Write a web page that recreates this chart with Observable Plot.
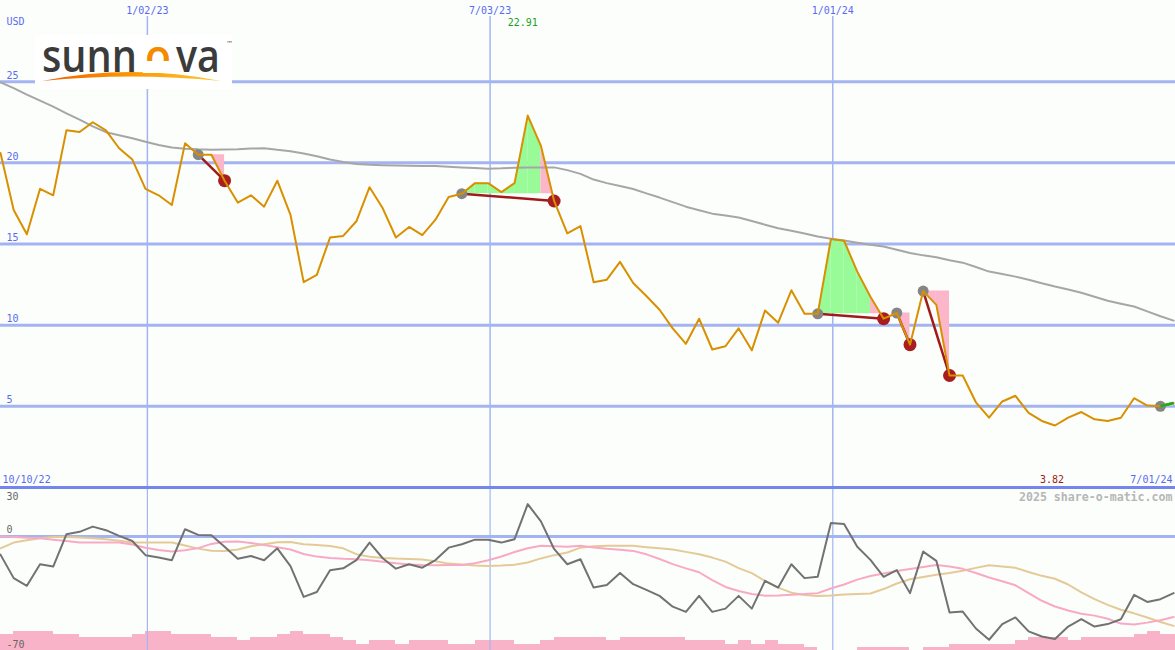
<!DOCTYPE html>
<html><head><meta charset="utf-8">
<script src="https://cdn.jsdelivr.net/npm/d3@7"></script>
<script src="https://cdn.jsdelivr.net/npm/@observablehq/plot@0.6"></script>
<style>
html,body{margin:0;padding:0;background:#fcfefc;}
#wrap{position:relative;width:1175px;height:650px;overflow:hidden;background:#fcfefc;}
#wrap > svg{position:absolute;left:0;}
</style></head><body><div id="wrap"></div>
<script>
// ---------- data ----------
const startDate = "2022-10-16";
const endDate = "2024-07-01";
const price = [20.6, 17.1, 15.6, 18.4, 18.0, 22.0, 21.9, 22.5, 22.0, 20.9,
 20.2, 18.4, 18.0, 17.4, 21.2, 20.5, 20.5, 18.9, 17.55, 18.0,
 17.3, 18.9, 16.8, 12.65, 13.1, 15.4, 15.5, 16.4, 18.5, 17.2,
 15.4, 16.05, 15.55, 16.5, 17.9, 18.1, 18.75, 18.75, 18.2, 18.75,
 22.91, 21.05, 17.65, 15.65, 16.1, 12.65, 12.8, 13.9, 12.6, 11.8,
 10.95, 9.8, 8.85, 10.4, 8.5, 8.7, 9.8, 8.45, 10.9, 10.15,
 12.15, 10.7, 10.7, 15.3, 15.2, 13.3, 11.75, 10.4, 10.75, 8.8,
 12.1, 11.25, 6.9, 6.9, 5.25, 4.3, 5.3, 5.65, 4.6, 4.1,
 3.82, 4.3, 4.65, 4.2, 4.1, 4.3, 5.5, 5.05, 5.0, 5.2];
const avg = [24.96, 24.6, 24.2, 23.83, 23.46, 23.05, 22.66, 22.25, 21.89, 21.7,
 21.51, 21.3, 21.1, 20.94, 20.87, 20.83, 20.81, 20.82, 20.83, 20.88,
 20.9, 20.8, 20.72, 20.57, 20.4, 20.2, 20.05, 19.93, 19.88, 19.85,
 19.83, 19.82, 19.8, 19.8, 19.76, 19.72, 19.68, 19.64, 19.66, 19.7,
 19.72, 19.72, 19.72, 19.55, 19.32, 18.97, 18.75, 18.57, 18.39, 18.12,
 17.86, 17.58, 17.3, 17.08, 16.87, 16.75, 16.63, 16.42, 16.19, 15.97,
 15.82, 15.65, 15.46, 15.33, 15.21, 15.08, 14.96, 14.84, 14.65, 14.44,
 14.3, 14.18, 14.0, 13.85, 13.58, 13.3, 13.15, 12.99, 12.8, 12.58,
 12.38, 12.2, 12.0, 11.75, 11.5, 11.32, 11.15, 10.85, 10.55, 10.28];
const osc = [-11.2, -25.6, -30.3, -17.1, -18.5, 1.3, 2.8, 6.0, 3.8, 0.3,
 -2.8, -11.5, -13.0, -14.6, 4.4, 0.9, 0.7, -6.3, -13.7, -12.0,
 -14.6, -7.3, -18.2, -37.1, -34.1, -20.8, -19.6, -14.5, -3.8, -13.4,
 -19.8, -17.1, -19.2, -14.5, -6.9, -4.8, -2.0, -2.0, -3.8, -1.7,
 19.8, 9.2, -7.7, -17.1, -14.0, -31.4, -29.8, -22.4, -29.3, -32.8,
 -36.5, -43.1, -46.3, -36.5, -46.3, -44.3, -36.5, -44.3, -27.3, -31.4,
 -17.1, -25.6, -24.8, 8.2, 7.6, -6.4, -14.4, -24.8, -20.7, -34.8,
 -9.3, -15.0, -46.7, -46.1, -56.5, -63.4, -53.8, -49.7, -58.3, -61.4,
 -63.0, -55.3, -50.8, -55.3, -53.8, -50.8, -35.9, -40.2, -38.5, -34.8];
const oscFast = [-0.1, -0.4, -0.9, -1.1, -2.0, -2.8, -3.8, -3.8, -3.8, -3.8,
 -5.0, -7.0, -8.3, -9.3, -8.5, -7.2, -4.6, -3.3, -3.1, -4.0,
 -5.3, -6.7, -8.0, -10.8, -12.4, -13.2, -13.7, -14.0, -14.6, -15.6,
 -16.5, -17.2, -17.6, -17.7, -17.6, -17.5, -16.5, -14.6, -12.3, -9.6,
 -7.3, -5.8, -6.0, -6.4, -5.8, -6.8, -7.6, -8.2, -8.9, -11.0,
 -13.9, -17.0, -19.6, -22.0, -26.8, -31.0, -33.5, -35.3, -36.4, -36.2,
 -35.8, -35.4, -34.8, -32.0, -29.5, -26.5, -24.3, -22.8, -21.2, -20.0,
 -18.8, -17.6, -18.5, -19.9, -22.5, -25.2, -27.5, -30.0, -34.8, -39.5,
 -43.0, -45.5, -47.4, -48.6, -50.5, -53.5, -54.0, -52.9, -51.5, -49.5];
const oscSlow = [-7.3, -3.8, -2.3, -1.1, -0.3, -0.3, -0.7, -1.2, -1.8, -2.6,
 -3.8, -3.8, -3.8, -3.8, -5.6, -7.5, -8.8, -9.0, -8.0, -6.0,
 -4.8, -3.6, -3.4, -4.8, -5.3, -5.9, -7.3, -10.9, -12.5, -13.2,
 -13.6, -13.8, -14.2, -15.2, -16.7, -17.2, -17.8, -18.1, -17.9, -17.4,
 -16.0, -13.5, -11.5, -9.9, -6.9, -6.0, -5.8, -5.8, -5.8, -6.6,
 -7.3, -8.0, -9.5, -10.9, -13.0, -15.5, -19.5, -22.5, -27.3, -31.4,
 -34.5, -36.0, -36.5, -36.3, -35.6, -35.3, -35.0, -32.3, -28.9, -26.3,
 -24.9, -23.5, -22.5, -21.1, -19.3, -17.7, -18.4, -19.3, -21.8, -24.2,
 -26.0, -29.5, -34.3, -38.5, -42.0, -45.0, -47.2, -49.8, -52.5, -54.9];
const volume = [5,6,6,6,5,5,4,4,4,4,
 5,6,6,5,5,5,4,4,3,4,
 4,5,6,5,5,4,3,2,3,3,
 2,3,3,3,2,2,3,3,3,2,
 2,3,4,4,4,4,3,4,4,4,
 4,4,3,3,3,2,3,2,3,2,
 2,1,0,0,0,1,1,1,1,0,
 1,1,2,2,2,2,2,3,4,4,
 4,3,4,4,4,4,5,6,5,5];
const tradeEntry = [15, 35, 62, 68, 70, 88];
const tradeExit  = [17, 42, 67, 69, 72, 89];
const tradeOpen  = [false, false, false, false, false, true];
const dateTicks = ["2023-01-02", "2023-07-03", "2024-01-01"];
const dateTickLabels = ["1/02/23", "7/03/23", "1/01/24"];
const priceTicks = [5, 10, 15, 20, 25];
const oscTicksTop = [30];
const oscTicksLow = [0, -70];
const rangeLabels = ["10/10/22", "7/01/24"];
const unitLabel = "USD";
const credit = "2025 share-o-matic.com";

// ---------- derived tables ----------
const WEEK = 7 * 864e5;
const t0 = new Date(startDate + "T00:00:00Z");
const xDomain = [t0, new Date(endDate + "T00:00:00Z")];
const dates = price.map((_, i) => new Date(+t0 + i * WEEK));
const rows = price.map((p, i) => ({
  date: dates[i], next: new Date(+dates[i] + WEEK), price: p, avg: avg[i],
  osc: osc[i], fast: oscFast[i], slow: oscSlow[i], vol: volume[i]
}));
const trades = tradeEntry.map((e, k) => ({e, x: tradeExit[k], open: tradeOpen[k]}));
const GREEN = "#98fb98", PINK = "#fbb6c9";
const segs = [];
trades.forEach((t, ti) => {
  const level = price[t.e];
  for (let k = t.e; k < t.x; k++) {
    const col = price[k + 1] >= level ? GREEN : PINK;
    const id = ti + "-" + k;
    segs.push({id, date: dates[k], lo: level, hi: price[k], col});
    segs.push({id, date: dates[k + 1], lo: level, hi: price[k + 1], col});
  }
});
const iMax = price.indexOf(d3.max(price));
const iMin = price.indexOf(d3.min(price));
const tickDates = dateTicks.map(d => new Date(d + "T00:00:00Z"));

const BLUE = "#5a6af0", GRID = "#a4b4f2", MONO = "DejaVu Sans Mono, monospace";
const baseStyle = {background: "transparent", fontFamily: MONO, fontSize: "10px", overflow: "visible"};

// ---------- upper panel ----------
const upper = Plot.plot({
  width: 1175, height: 489, marginTop: 0, marginRight: 0, marginLeft: 0, marginBottom: 2,
  x: {type: "utc", domain: xDomain, axis: null},
  y: {domain: [0, 30], axis: null},
  color: {type: "identity"},
  style: baseStyle,
  marks: [
    Plot.ruleY(priceTicks, {stroke: GRID, strokeWidth: 3}),
    Plot.ruleX(tickDates, {stroke: GRID, strokeWidth: 1.5, insetTop: 16}),
    Plot.areaY(segs, {x: "date", y1: "lo", y2: "hi", z: "id", fill: "col"}),
    Plot.line(rows, {x: "date", y: "avg", stroke: "#a6a6a6", strokeWidth: 2}),
    Plot.link(trades, {x1: t => dates[t.e], y1: t => price[t.e], x2: t => dates[t.x], y2: t => price[t.x],
      stroke: t => price[t.x] >= price[t.e] ? "#22aa22" : "#a01a1a", strokeWidth: 2.5}),
    Plot.dot(trades, {x: t => dates[t.e], y: t => price[t.e], r: 5.5, fill: "#858585"}),
    Plot.dot(trades.filter(t => !t.open), {x: t => dates[t.x], y: t => price[t.x], r: 6.5, fill: "#a81e1e"}),
    Plot.line(rows, {x: "date", y: "price", stroke: "#d99000", strokeWidth: 2}),
    Plot.link(trades.filter(t => t.open), {x1: t => dates[t.e], y1: t => price[t.e], x2: t => dates[t.x], y2: t => price[t.x],
      stroke: "#22aa22", strokeWidth: 2.5}),
    Plot.ruleY([0], {stroke: "#7585ee", strokeWidth: 3}),
    Plot.text(priceTicks, {y: d => d, text: d => String(d), frameAnchor: "left", textAnchor: "start",
      lineAnchor: "bottom", dx: 6, dy: -3, fill: BLUE}),
    Plot.text([unitLabel], {frameAnchor: "top-left", textAnchor: "start", lineAnchor: "bottom", dx: 6, dy: 24.5, fill: BLUE}),
    Plot.text(tickDates, {x: d => d, text: (d, i) => dateTickLabels[i], frameAnchor: "top", lineAnchor: "bottom", dy: 13, fill: BLUE}),
    Plot.text([rangeLabels[0]], {frameAnchor: "bottom-left", textAnchor: "start", lineAnchor: "bottom", dx: 2, dy: -5, fill: BLUE}),
    Plot.text([rangeLabels[1]], {frameAnchor: "bottom-right", textAnchor: "end", lineAnchor: "bottom", dx: -3, dy: -5, fill: BLUE}),
    Plot.text([iMax], {x: i => dates[i], text: i => price[i].toFixed(2), frameAnchor: "top", lineAnchor: "bottom", dy: 25, dx: -5, fill: "#1e9e1e"}),
    Plot.text([iMin], {x: i => dates[i], text: i => price[i].toFixed(2), frameAnchor: "bottom", lineAnchor: "bottom", dy: -5, dx: -3, fill: "#a01a1a"})
  ]
});

// ---------- lower panel ----------
const lower = Plot.plot({
  width: 1175, height: 163, margin: 0,
  x: {type: "utc", domain: xDomain, axis: null},
  y: {domain: [-70, 30], axis: null},
  style: baseStyle,
  marks: [
    Plot.ruleX(tickDates, {stroke: GRID, strokeWidth: 1.2}),
    Plot.ruleY([0], {stroke: GRID, strokeWidth: 3}),
    Plot.line(rows, {x: "date", y: "slow", stroke: "#e4ca96", strokeWidth: 2}),
    Plot.line(rows, {x: "date", y: "fast", stroke: "#f8aac4", strokeWidth: 2}),
    Plot.line(rows, {x: "date", y: "osc", stroke: "#727272", strokeWidth: 2}),
    Plot.text(oscTicksTop, {y: d => d, text: d => String(d), frameAnchor: "left", textAnchor: "start", lineAnchor: "top", dx: 6, dy: 5, fill: "#666"}),
    Plot.text(oscTicksLow, {y: d => d, text: d => String(d), frameAnchor: "left", textAnchor: "start", lineAnchor: "bottom", dx: 6, dy: -3, fill: "#666"}),
    Plot.text([credit], {frameAnchor: "top-right", textAnchor: "end", lineAnchor: "bottom", dx: -3, dy: 13,
      fill: "#b6b6b6", fontWeight: "bold", fontSize: 11.6})
  ]
});

// ---------- volume ----------
const vol = Plot.plot({
  width: 1175, height: 32, margin: 0,
  x: {type: "utc", domain: xDomain, axis: null},
  y: {domain: [0, 10], axis: null},
  style: {background: "transparent", overflow: "hidden"},
  marks: [
    Plot.rectY(rows, {x1: "date", x2: "next", y: "vol", fill: "#f9b3c8", shapeRendering: "crispEdges"})
  ]
});

const wrap = document.getElementById("wrap");
vol.style.top = "618px";
lower.style.top = "487px";
upper.style.top = "0px";
wrap.appendChild(vol);
wrap.appendChild(lower);
wrap.appendChild(upper);

// ---------- logo ----------
const logo = `
<svg id="logo" width="212" height="82" style="left:30px;top:15px" xmlns="http://www.w3.org/2000/svg">
  <defs>
    <linearGradient id="swoosh" x1="0" x2="1" y1="0" y2="0">
      <stop offset="0" stop-color="#ee5f00"/>
      <stop offset="0.45" stop-color="#fb9200"/>
      <stop offset="1" stop-color="#ffc830"/>
    </linearGradient>
    <linearGradient id="sun" x1="0" y1="0" x2="0" y2="1">
      <stop offset="0" stop-color="#f07a00"/>
      <stop offset="0.55" stop-color="#f79a00"/>
      <stop offset="0.55" stop-color="#ffffff"/>
      <stop offset="1" stop-color="#ffffff"/>
    </linearGradient>
  </defs>
  <rect x="5" y="20" width="197" height="54" fill="#ffffff"/>
  <path d="M12,66 Q101,48 191,66 Q101,57 12,66 Z" fill="url(#swoosh)"/>
  <g font-family="Open Sans, Lato, sans-serif" font-size="46" font-weight="600">
    <text class="lw" data-x="12" data-w="95" fill="#3b3b3b">sunn</text>
    <text class="lw" data-x="115" data-w="26" fill="#f38a00">o</text>
    <text class="lw" data-x="146" data-w="44" fill="#3b3b3b">va</text>
  </g>
  <text x="196" y="31" font-family="DejaVu Sans, sans-serif" font-size="7" fill="#555">™</text>
</svg>`;
wrap.insertAdjacentHTML("beforeend", logo);
// fit each word part into its slot by horizontal scaling
document.querySelectorAll("#logo text.lw").forEach(t => {
  const nat = t.getComputedTextLength() || 1;
  const sx = (+t.dataset.w) / nat;
  t.setAttribute("transform", `translate(${t.dataset.x},57) scale(${sx.toFixed(4)},1)`);
});
// half-sun: cover lower part of the "o" with the logo background
const oText = document.querySelectorAll("#logo text.lw")[1];
const ob = oText.getBBox();
const cover = document.createElementNS("http://www.w3.org/2000/svg", "rect");
cover.setAttribute("x", 113); cover.setAttribute("y", 46); cover.setAttribute("width", 30); cover.setAttribute("height", 12);
cover.setAttribute("fill", "#ffffff");
oText.parentNode.insertBefore(cover, oText.nextSibling);
</script></body></html>
